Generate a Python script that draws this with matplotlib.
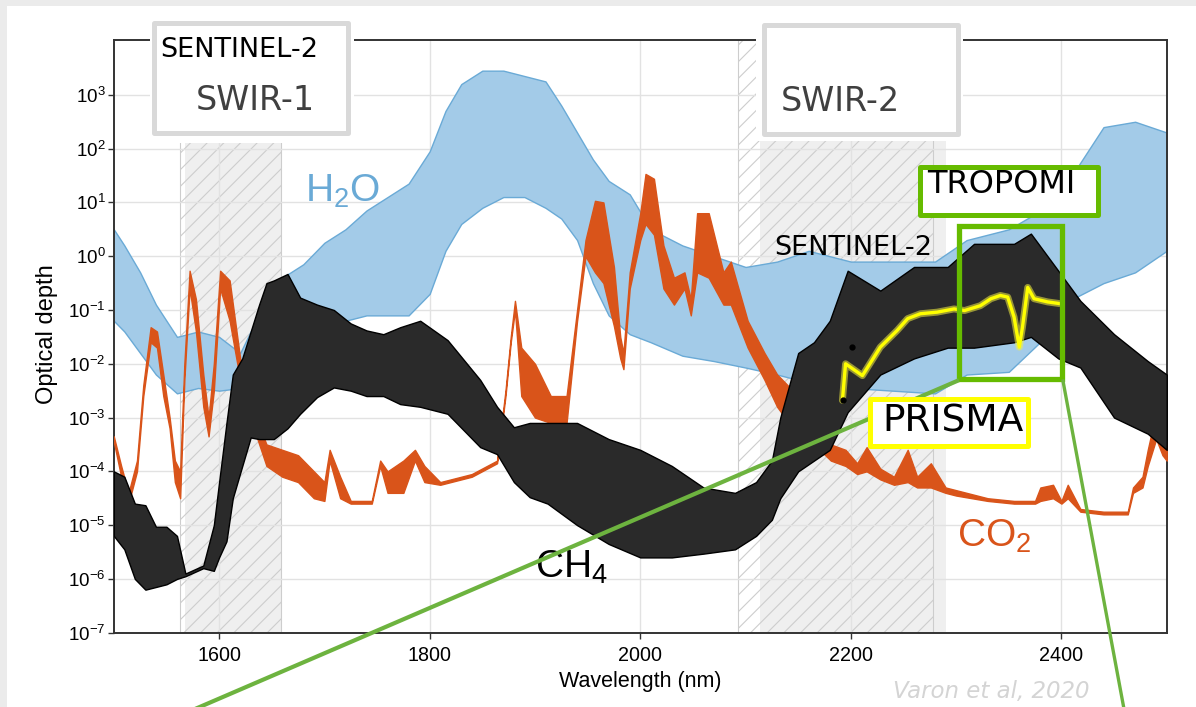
## Optical depth of H2O, CO2 and CH4 in the SWIR, with satellite bands ##

import numpy as np
import matplotlib
matplotlib.use('Agg')
import matplotlib.pyplot as plt
from matplotlib.patches import Rectangle
from matplotlib.lines import Line2D


plt.rcParams['font.family'] = ['Liberation Sans', 'DejaVu Sans']
plt.rcParams['mathtext.fontset'] = 'custom'
plt.rcParams['mathtext.rm'] = 'Liberation Sans'
plt.rcParams['mathtext.it'] = 'Liberation Sans:italic'
plt.rcParams['hatch.linewidth'] = 0.8


# Spectra: wavelength (nm) and log10 of the optical depth,
# upper and lower envelope of the dense line structure
w_h2o = [1500, 1510, 1525, 1540, 1560, 1580, 1600, 1620, 1640, 1660, 1680, 1700, 1720, 1740, 1760,
         1780, 1800, 1815, 1830, 1850, 1870, 1890, 1910, 1925, 1940, 1955, 1970, 1990, 2010, 2040,
         2070, 2100, 2130, 2160, 2200, 2240, 2280, 2310, 2350, 2385, 2410, 2440, 2470, 2500]
h2o_top = [0.5, 0.2, -0.3, -0.9, -1.5, -1.4, -1.5, -1.8, -1.0, -0.4, -0.15, 0.25, 0.5, 0.85, 1.1,
           1.35, 1.95, 2.7, 3.2, 3.45, 3.45, 3.35, 3.25, 2.8, 2.3, 1.8, 1.4, 1.15, 0.5, 0.2,
           0.0, -0.2, -0.1, 0.1, -0.1, -0.1, -0.1, 0.3, 0.5, 0.9, 1.5, 2.4, 2.5, 2.3]
h2o_bot = [-1.2, -1.4, -1.8, -2.2, -2.55, -2.45, -2.5, -2.45, -1.75, -1.5, -1.45, -1.35, -1.2, -1.1, -1.1,
           -1.1, -0.7, 0.1, 0.6, 0.9, 1.1, 1.1, 0.9, 0.7, 0.3, -0.5, -1.1, -1.45, -1.6, -1.85,
           -1.95, -2.07, -2.2, -2.35, -2.45, -2.5, -2.55, -2.2, -2.15, -1.5, -0.8, -0.5, -0.3, 0.1]

w_co2 = [1500, 1507, 1514, 1522, 1528, 1535, 1541, 1547, 1553, 1558, 1563, 1567, 1572, 1578, 1585,
         1590, 1595, 1601, 1610, 1620, 1633, 1645, 1660, 1675, 1690, 1700, 1705, 1715, 1725, 1745,
         1753, 1760, 1775, 1786, 1795, 1810, 1840, 1864, 1872, 1877, 1881, 1887, 1900, 1915, 1930,
         1940, 1948, 1957, 1965, 1975, 1981, 1984, 1990, 2000, 2005, 2013, 2022, 2032, 2042, 2048,
         2054, 2065, 2079, 2086, 2102, 2118, 2130, 2145, 2160, 2181, 2195, 2206, 2215, 2228, 2241,
         2254, 2263, 2276, 2290, 2300, 2330, 2355, 2375, 2380, 2392, 2400, 2406, 2418, 2440, 2463,
         2468, 2477, 2482, 2490, 2496, 2500]
co2_top = [-3.35, -3.9, -4.4, -3.8, -2.4, -1.32, -1.4, -2.2, -3.0, -3.8, -4.0, -2.0, -0.27, -0.8, -2.2,
           -3.0, -2.0, -0.27, -0.45, -1.9, -2.9, -3.5, -3.6, -3.7, -4.0, -4.2, -3.6, -4.1, -4.55, -4.55,
           -3.8, -4.0, -3.8, -3.6, -3.9, -4.2, -4.05, -3.8, -2.5, -1.5, -0.83, -1.7, -2.0, -2.6, -2.6,
           -1.0, 0.3, 1.03, 1.0, -0.2, -1.5, -1.8, -0.3, 0.8, 1.53, 1.44, 0.2, -0.4, -0.3, -0.8,
           0.8, 0.8, -0.3, -0.1, -1.2, -1.8, -2.2, -2.5, -3.0, -3.5, -3.6, -3.85, -3.55, -3.95, -4.1,
           -3.6, -4.1, -3.85, -4.3, -4.35, -4.5, -4.55, -4.55, -4.3, -4.25, -4.55, -4.25, -4.7, -4.75, -4.75,
           -4.3, -4.1, -3.6, -2.9, -3.2, -3.5]
co2_bot = [-3.45, -4.1, -4.6, -4.0, -2.6, -1.6, -1.7, -2.6, -3.2, -4.2, -4.5, -2.3, -0.6, -1.4, -2.8,
           -3.35, -2.5, -0.6, -1.2, -2.3, -3.2, -3.9, -4.1, -4.2, -4.5, -4.55, -3.8, -4.5, -4.6, -4.6,
           -3.9, -4.4, -4.4, -3.8, -4.2, -4.25, -4.1, -3.85, -2.6, -1.6, -1.0, -2.6, -3.0, -3.1, -3.1,
           -1.2, 0.0, -0.3, -0.5, -1.3, -1.9, -2.1, -0.6, 0.3, 0.6, 0.4, -0.6, -0.9, -0.6, -1.1,
           -0.3, -0.4, -0.9, -0.9, -1.7, -2.3, -2.8, -3.2, -3.4, -3.8, -3.9, -4.05, -4.0, -4.15, -4.25,
           -4.2, -4.3, -4.3, -4.4, -4.45, -4.55, -4.6, -4.6, -4.55, -4.5, -4.6, -4.5, -4.75, -4.8, -4.8,
           -4.4, -4.3, -3.9, -3.4, -3.7, -3.8]

w_ch4 = [1500, 1510, 1520, 1530, 1540, 1550, 1560, 1568, 1585, 1595, 1600, 1607, 1613, 1622, 1630,
         1638, 1645, 1652, 1665, 1677, 1693, 1709, 1725, 1740, 1756, 1772, 1791, 1817, 1848, 1864,
         1880, 1895, 1912, 1940, 1970, 2000, 2030, 2060, 2090, 2110, 2125, 2133, 2150, 2165, 2180,
         2197, 2228, 2260, 2292, 2317, 2355, 2371, 2397, 2418, 2450, 2482, 2500]
ch4_top = [-4.0, -4.1, -4.6, -4.63, -5.03, -5.03, -5.2, -5.9, -5.75, -5.0, -4.2, -3.1, -2.2, -1.9, -1.4,
           -0.9, -0.5, -0.45, -0.33, -0.77, -0.9, -1.0, -1.25, -1.38, -1.45, -1.32, -1.2, -1.56, -2.3, -2.8,
           -3.18, -3.1, -3.1, -3.1, -3.4, -3.6, -3.9, -4.3, -4.4, -4.2, -3.8, -3.0, -1.8, -1.6, -1.2,
           -0.27, -0.64, -0.2, -0.2, 0.23, 0.23, 0.42, -0.27, -0.83, -1.45, -1.95, -2.2]
ch4_bot = [-5.2, -5.45, -6.0, -6.2, -6.15, -6.1, -6.0, -5.95, -5.8, -5.85, -5.6, -5.3, -4.5, -3.9, -3.37,
           -3.4, -3.4, -3.4, -3.2, -2.93, -2.62, -2.44, -2.5, -2.6, -2.6, -2.75, -2.8, -2.93, -3.55, -3.68,
           -4.2, -4.48, -4.6, -5.0, -5.35, -5.6, -5.6, -5.53, -5.45, -5.2, -4.9, -4.5, -4.0, -3.8, -3.6,
           -2.9, -2.2, -1.9, -1.7, -1.7, -1.6, -1.5, -1.9, -2.07, -3.0, -3.3, -3.6]

# PRISMA retrieval (yellow) and the two Sentinel-2 points
w_prisma = [2192, 2195, 2211, 2228, 2244, 2254, 2266, 2282, 2298, 2308, 2323, 2333, 2342, 2349,
            2355, 2360, 2363, 2368, 2374, 2387, 2398]
prisma_log = [-2.68, -2.0, -2.22, -1.69, -1.38, -1.16, -1.07, -1.04, -0.98, -1.01, -0.92, -0.79, -0.73, -0.76,
              -1.13, -1.69, -1.32, -0.58, -0.79, -0.85, -0.88]
w_s2pts = [2193, 2201]
s2pts_log = [-2.68, -1.69]

# Sentinel-2 SWIR bands (2A grey, 2B hatched) and TROPOMI window, nm
swir1_a = (1568, 1659)
swir1_b = (1563, 1659)
swir2_a = (2114, 2290)
swir2_b = (2093, 2278)
tropomi = (2303, 2401)
tropomi_od = (10**-2.29, 10**0.57)

xticks = [1600, 1800, 2000, 2200, 2400]
yticks = [10.0**k for k in range(-7, 4)]


# colours
c_h2o = '#6aaad6'
c_co2 = '#d9541a'
c_ch4 = '#000000'
c_green = '#66bb00'
c_link = '#6db33f'
c_yellow = '#ffff00'

W, H = 1196, 707
fig = plt.figure(figsize=(W/100, H/100), dpi=100)
fig.patch.set_facecolor('white')

def fx(x):
    return x / W

def fy(y):
    return 1 - y / H


ax = fig.add_axes([fx(113.8), fy(632.7), (1166.7 - 113.8)/W, (632.7 - 40)/H])
ax.set_yscale('log')
ax.set_xlim(1500, 2500)
ax.set_ylim(1e-7, 10**4.02)

# bands
ax.axvspan(*swir1_a, facecolor='#efefef', edgecolor='none', zorder=0.2)
ax.axvspan(*swir2_a, facecolor='#efefef', edgecolor='none', zorder=0.2)
ax.axvspan(*swir1_b, facecolor='none', edgecolor='#cdcdcd', hatch='//', lw=0.8, zorder=0.3)
ax.axvspan(*swir2_b, facecolor='none', edgecolor='#cdcdcd', hatch='//', lw=0.8, zorder=0.3)

# spectra (dense line structure shown as a band between its envelopes)
ax.fill_between(w_h2o, 10**np.array(h2o_bot), 10**np.array(h2o_top),
                facecolor='#a3cbe8', edgecolor=c_h2o, lw=1.0, zorder=2)
ax.fill_between(w_co2, 10**np.array(co2_bot), 10**np.array(co2_top),
                facecolor=c_co2, edgecolor=c_co2, lw=1.0, zorder=3)
ax.fill_between(w_ch4, 10**np.array(ch4_bot), 10**np.array(ch4_top),
                facecolor='#2a2a2a', edgecolor=c_ch4, lw=1.0, zorder=4)

# PRISMA
ax.plot(w_prisma, 10**np.array(prisma_log), color='#f4f040', lw=5, alpha=0.55, zorder=5,
        solid_capstyle='round')
ax.plot(w_prisma, 10**np.array(prisma_log), color=c_yellow, lw=2.4, zorder=5.5,
        solid_joinstyle='round')
ax.plot(w_s2pts, 10**np.array(s2pts_log), 'o', color='black', ms=3.5, zorder=6)

# TROPOMI window
ax.add_patch(Rectangle((tropomi[0], tropomi_od[0]), tropomi[1] - tropomi[0],
                       tropomi_od[1] - tropomi_od[0], fill=False, edgecolor=c_green,
                       lw=3.8, zorder=7, joinstyle='miter'))

# axes styling
ax.set_xticks(xticks)
ax.set_yticks(yticks)
ax.minorticks_off()
ax.tick_params(axis='x', labelsize=14.2, length=4.5, width=1.0, color='#333333', pad=5)
ax.tick_params(axis='y', labelsize=13.5, length=4, width=1.0, color='#333333', pad=2)
ax.grid(True, color='#e2e2e2', lw=1.0)
ax.set_axisbelow(True)
for s in ax.spines.values():
    s.set_color('#333333')
    s.set_linewidth(1.4)

fig.text(fx(47.5), fy(334), 'Optical depth', rotation=90, ha='center', va='center', fontsize=17)
fig.text(fx(640), fy(681), 'Wavelength (nm)', ha='center', va='center', fontsize=15.5)

# gas names
fig.text(fx(305), fy(202), r'$\mathregular{H_2O}$', color=c_h2o, fontsize=28, ha='left', va='baseline')
fig.text(fx(535), fy(578), r'$\mathregular{CH_4}$', color='black', fontsize=28, ha='left', va='baseline')
fig.text(fx(957), fy(547), r'$\mathregular{CO_2}$', color=c_co2, fontsize=28, ha='left', va='baseline')


# label boxes drawn over the figure (pixel positions)
def fig_box(x0, y0, x1, y1, edge, lw, face='white', z=8):
    r = Rectangle((fx(x0), fy(y1)), fx(x1) - fx(x0), fy(y0) - fy(y1), transform=fig.transFigure,
                  facecolor=face, edgecolor=edge, lw=lw, zorder=z, joinstyle='round')
    fig.patches.append(r)

# white backing that hides the top of the grey bands and the top spine
fig_box(150, 15, 354, 143, 'none', 0, z=7)
fig_box(756, 15, 963, 141, 'none', 0, z=7)

fig_box(154, 22.5, 347.5, 132.5, '#d9d9d9', 3.6)
fig_box(764, 25, 958, 134, '#d9d9d9', 3.6)
fig_box(920, 166.5, 1097.5, 214.5, c_green, 3.6)
fig_box(870, 398.5, 1028, 445.5, c_yellow, 3.6)

# outer light grey frame
fig_box(0, 0, W, 6, 'none', 0, face='#ebebeb', z=1)
fig_box(0, 0, 7, H, 'none', 0, face='#ebebeb', z=1)

box_font = dict(family='DejaVu Sans', ha='left', va='baseline', zorder=9)
fig.text(fx(160), fy(57), 'SENTINEL-2', fontsize=19.5, color='black', **box_font)
fig.text(fx(196), fy(110), 'SWIR-1', fontsize=24, color='#404040', **box_font)
fig.text(fx(781), fy(111), 'SWIR-2', fontsize=24, color='#404040', **box_font)
fig.text(fx(927), fy(193), 'TROPOMI', fontsize=23, color='black', **box_font)
fig.text(fx(774), fy(255), 'SENTINEL-2', fontsize=19.5, color='black', **box_font)
fig.text(fx(882), fy(432), 'PRISMA', fontsize=27, color='black', **box_font)

# zoom lines from the TROPOMI window
fig.lines.append(Line2D([fx(957), fx(195)], [fy(381), fy(709)], transform=fig.transFigure,
                        color=c_link, lw=3.0, zorder=8))
fig.lines.append(Line2D([fx(1063), fx(1124)], [fy(381), fy(709)], transform=fig.transFigure,
                        color=c_link, lw=2.4, zorder=8))

fig.text(fx(893), fy(698), 'Varon et al, 2020', fontsize=16.5, style='italic', color='#d4d4d4',
         family='DejaVu Sans', ha='left', va='baseline', zorder=9)

plt.savefig('out.png', dpi=100)
